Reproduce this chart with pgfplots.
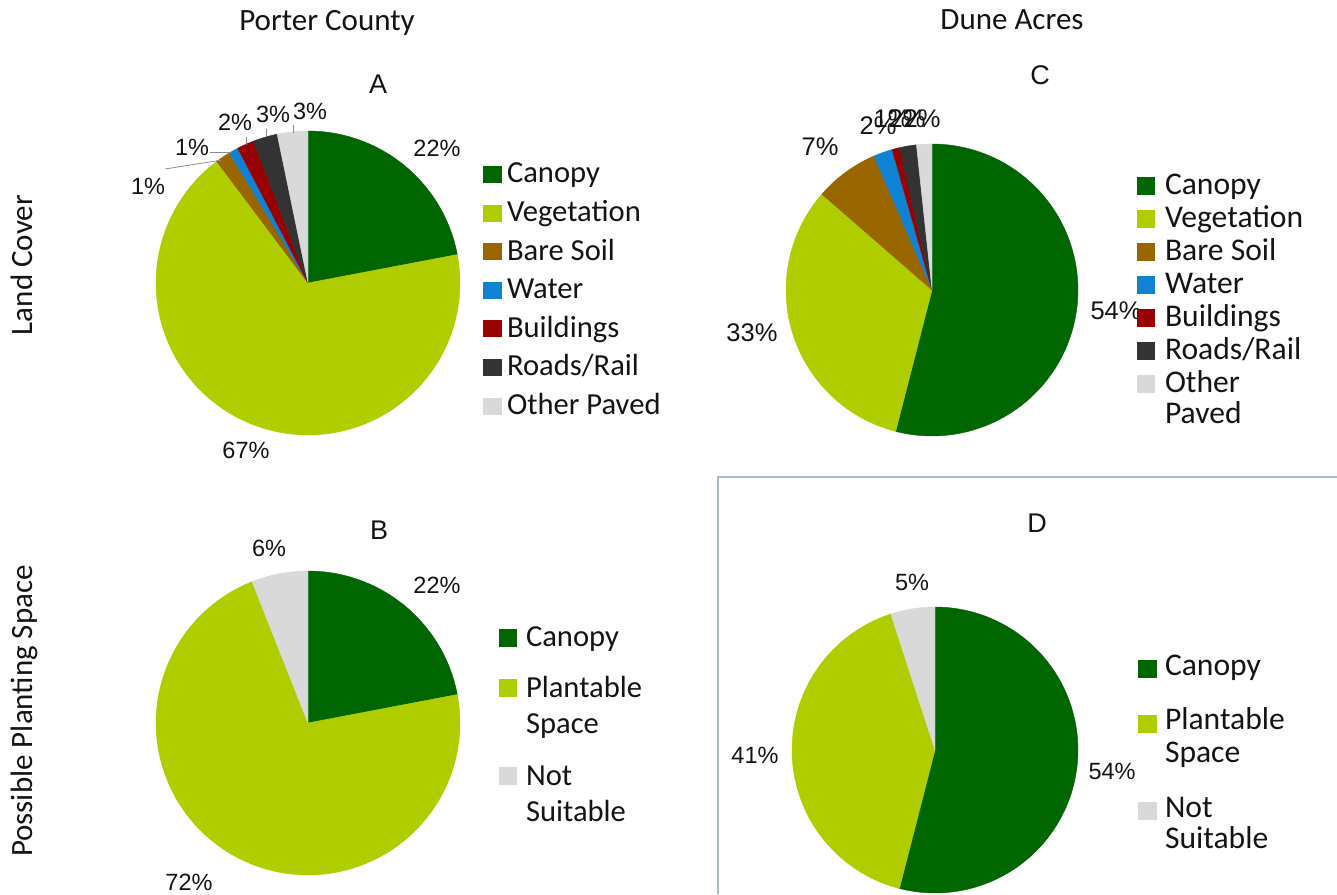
\documentclass[border=0pt]{standalone}
\usepackage{pgfplots}
\pgfplotsset{compat=1.18}
\usepackage{fontspec}
\setmainfont{Carlito}
\newfontfamily\arialf{Liberation Sans}
\definecolor{canopy}{RGB}{0,102,0}
\definecolor{veg}{RGB}{176,205,0}
\definecolor{soil}{RGB}{153,102,0}
\definecolor{water}{RGB}{16,130,212}
\definecolor{bldg}{RGB}{153,0,0}
\definecolor{road}{RGB}{51,51,51}
\definecolor{paved}{RGB}{217,217,217}
\definecolor{framec}{RGB}{166,185,208}
\definecolor{leader}{RGB}{140,140,140}
\definecolor{txt}{RGB}{20,20,20}

\newcommand\legA{\fontsize{15.3}{18}\selectfont}
\newcommand\legC{\fontsize{15.8}{18}\selectfont}
\newcommand\ttl{\fontsize{15.5}{18}\selectfont}
\newcommand\pct{\arialf\fontsize{11.75}{14}\selectfont}
\newcommand\pctC{\arialf\fontsize{12.75}{15}\selectfont}
\newcommand\letter{\arialf\fontsize{13.5}{16}\selectfont}
\tikzset{lb/.style={inner sep=0pt, outer sep=0pt, text=txt}}

% pie: slices clockwise from 12 o'clock
\newcommand{\piestart}{\gdef\cum{0}}
\newcommand{\slice}[5]{% cx, cy(px from top), r, percent, colour
  \pgfmathsetmacro\sA{90-3.6*(\cum+#4)}%
  \pgfmathsetmacro\sB{90-3.6*\cum}%
  \pgfmathsetmacro\newcum{\cum+#4}\xdef\cum{\newcum}%
  \edef\doslice{\noexpand\addplot[fill=#5, draw=#5, line width=0.2pt,
      domain=\sA:\sB, samples=90, variable=\noexpand\t]
    ({#1+#3*cos(\noexpand\t)},{-#2+#3*sin(\noexpand\t)}) -- (axis cs:#1,-#2) -- cycle;}%
  \doslice}
% legend square: x1, ytop, x2, ybottom, colour
\newcommand{\lsq}[5]{\addplot[fill=#5, draw=none] coordinates {(#1,-#2) (#3,-#2) (#3,-#4) (#1,-#4)} -- cycle;}

\begin{document}
\begin{tikzpicture}
\begin{axis}[name=main, scale only axis, width=668.5pt, height=447pt,
  xmin=0, xmax=1337, ymin=-894, ymax=0, axis lines=none, clip=false]

% ---------- titles ----------
\node[lb, anchor=base, font=\ttl] at (axis cs:327,-31) {Porter County};
\node[lb, anchor=base, font=\ttl] at (axis cs:1012,-30) {Dune Acres};
\node[lb, anchor=base, rotate=90, font=\ttl] at (axis cs:33,-265) {Land Cover};
\node[lb, anchor=base, rotate=90, font=\ttl] at (axis cs:33,-711) {Possible Planting Space};

% ---------- frame around D ----------
\addplot[framec, line width=0.7pt] coordinates {(718,-894) (718,-477) (1337,-477)};

% ---------- A : Porter County land cover ----------
\piestart
\slice{308}{283}{152}{22}{canopy}
\slice{308}{283}{152}{67.75}{veg}
\slice{308}{283}{152}{1.6}{soil}
\slice{308}{283}{152}{1.0}{water}
\slice{308}{283}{152}{1.8}{bldg}
\slice{308}{283}{152}{2.6}{road}
\slice{308}{283}{152}{3.25}{paved}
\node[lb, anchor=base, font=\letter] at (axis cs:378,-94) {A};
\node[lb, font=\pct] at (axis cs:437,-148) {22\%};
\node[lb, font=\pct] at (axis cs:246,-450) {67\%};
\node[lb, font=\pct] at (axis cs:148,-186) {1\%};
\node[lb, font=\pct] at (axis cs:192,-147) {1\%};
\node[lb, font=\pct] at (axis cs:235,-122) {2\%};
\node[lb, font=\pct] at (axis cs:273,-114) {3\%};
\node[lb, font=\pct] at (axis cs:310,-111) {3\%};
\addplot[leader, line width=0.4pt] coordinates {(165,-169) (222,-160)};
\addplot[leader, line width=0.4pt] coordinates {(210,-152) (231,-152)};
\addplot[leader, line width=0.4pt] coordinates {(246,-137) (246,-145)};
\addplot[leader, line width=0.4pt] coordinates {(266,-129) (266,-136)};
\addplot[leader, line width=0.4pt] coordinates {(293,-125) (293,-133)};
\lsq{483}{166}{502}{183}{canopy}
\lsq{483}{204.6}{502}{221.6}{veg}
\lsq{483}{243.2}{502}{260.2}{soil}
\lsq{483}{281.8}{502}{298.8}{water}
\lsq{483}{320.4}{502}{337.4}{bldg}
\lsq{483}{359}{502}{376}{road}
\lsq{483}{397.6}{502}{414.6}{paved}
\node[lb, anchor=base west, font=\legA] at (axis cs:507,-183) {Canopy};
\node[lb, anchor=base west, font=\legA] at (axis cs:507,-221.6) {Vegetation};
\node[lb, anchor=base west, font=\legA] at (axis cs:507,-260.2) {Bare Soil};
\node[lb, anchor=base west, font=\legA] at (axis cs:507,-298.8) {Water};
\node[lb, anchor=base west, font=\legA] at (axis cs:507,-337.4) {Buildings};
\node[lb, anchor=base west, font=\legA] at (axis cs:507,-376) {Roads/Rail};
\node[lb, anchor=base west, font=\legA] at (axis cs:507,-414.6) {Other Paved};

% ---------- B : Porter County planting space ----------
\piestart
\slice{308}{723}{152}{22}{canopy}
\slice{308}{723}{152}{72}{veg}
\slice{308}{723}{152}{6}{paved}
\node[lb, anchor=base, font=\letter] at (axis cs:379,-540) {B};
\node[lb, font=\pct] at (axis cs:437,-585) {22\%};
\node[lb, font=\pct] at (axis cs:269,-548) {6\%};
\node[lb, font=\pct] at (axis cs:189,-882) {72\%};
\lsq{499}{629}{517}{647}{canopy}
\lsq{499}{679}{517}{697}{veg}
\lsq{499}{767}{517}{785}{paved}
\node[lb, anchor=base west, font=\legA] at (axis cs:526,-647) {Canopy};
\node[lb, anchor=base west, font=\legA] at (axis cs:526,-697) {Plantable};
\node[lb, anchor=base west, font=\legA] at (axis cs:526,-733) {Space};
\node[lb, anchor=base west, font=\legA] at (axis cs:526,-785) {Not};
\node[lb, anchor=base west, font=\legA] at (axis cs:526,-821) {Suitable};

% ---------- C : Dune Acres land cover ----------
\piestart
\slice{932}{290}{146}{54}{canopy}
\slice{932}{290}{146}{32.4}{veg}
\slice{932}{290}{146}{7.1}{soil}
\slice{932}{290}{146}{2.1}{water}
\slice{932}{290}{146}{0.8}{bldg}
\slice{932}{290}{146}{1.9}{road}
\slice{932}{290}{146}{1.7}{paved}
\node[lb, anchor=base, font=\letter] at (axis cs:1040,-85) {C};
\node[lb, font=\pctC] at (axis cs:1116,-311) {54\%};
\node[lb, font=\pctC] at (axis cs:752,-333) {33\%};
\node[lb, font=\pctC] at (axis cs:820,-147) {7\%};
\node[lb, font=\pctC] at (axis cs:878,-126) {2\%};
\node[lb, font=\pctC] at (axis cs:892,-119) {1\%};
\node[lb, font=\pctC] at (axis cs:907,-119) {2\%};
\node[lb, font=\pctC] at (axis cs:922,-119) {2\%};
\lsq{1137}{177}{1155}{195}{canopy}
\lsq{1137}{210}{1155}{228}{veg}
\lsq{1137}{243}{1155}{261}{soil}
\lsq{1137}{276}{1155}{294}{water}
\lsq{1137}{309}{1155}{327}{bldg}
\lsq{1137}{342}{1155}{360}{road}
\lsq{1137}{375}{1155}{393}{paved}
\node[lb, anchor=base west, font=\legC] at (axis cs:1165,-195) {Canopy};
\node[lb, anchor=base west, font=\legC] at (axis cs:1165,-228) {Vegetation};
\node[lb, anchor=base west, font=\legC] at (axis cs:1165,-261) {Bare Soil};
\node[lb, anchor=base west, font=\legC] at (axis cs:1165,-294) {Water};
\node[lb, anchor=base west, font=\legC] at (axis cs:1165,-327) {Buildings};
\node[lb, anchor=base west, font=\legC] at (axis cs:1165,-360) {Roads/Rail};
\node[lb, anchor=base west, font=\legC] at (axis cs:1165,-393) {Other};
\node[lb, anchor=base west, font=\legC] at (axis cs:1165,-424) {Paved};

% ---------- D : Dune Acres planting space ----------
\piestart
\slice{935}{750}{143}{54}{canopy}
\slice{935}{750}{143}{41}{veg}
\slice{935}{750}{143}{5}{paved}
\node[lb, anchor=base, font=\letter] at (axis cs:1037,-533) {D};
\node[lb, font=\pct] at (axis cs:912,-582) {5\%};
\node[lb, font=\pct] at (axis cs:755,-755) {41\%};
\node[lb, font=\pct] at (axis cs:1112,-771) {54\%};
\lsq{1138}{660}{1157}{678}{canopy}
\lsq{1138}{715}{1157}{733}{veg}
\lsq{1138}{802}{1157}{820}{paved}
\node[lb, anchor=base west, font=\legC] at (axis cs:1165,-675) {Canopy};
\node[lb, anchor=base west, font=\legC] at (axis cs:1165,-730) {Plantable};
\node[lb, anchor=base west, font=\legC] at (axis cs:1165,-762) {Space};
\node[lb, anchor=base west, font=\legC] at (axis cs:1165,-817) {Not};
\node[lb, anchor=base west, font=\legC] at (axis cs:1165,-848) {Suitable};
\end{axis}
\pgfresetboundingbox
\path[use as bounding box] (main.south west) rectangle (main.north east);
\end{tikzpicture}
\end{document}
